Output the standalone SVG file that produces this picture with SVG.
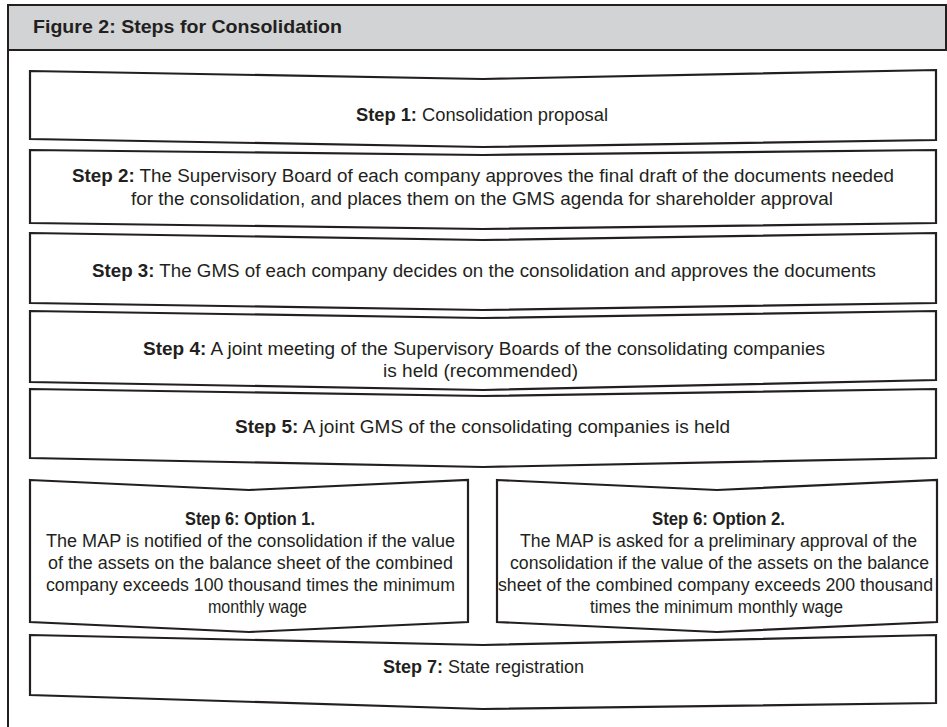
<svg xmlns="http://www.w3.org/2000/svg" width="947" height="727" viewBox="0 0 947 727">
<style>
.box{fill:#ffffff;stroke:#231f20;stroke-width:2.2;stroke-linejoin:miter}
.t{font-family:"Liberation Sans",Arial,sans-serif;font-size:17.5px;fill:#231f20;text-anchor:middle}
.b{font-weight:bold}
.h{font-family:"Liberation Sans",Arial,sans-serif;font-size:19px;font-weight:bold;fill:#231f20}
</style>
<rect width="947" height="727" fill="#ffffff"/>
<g id="frame">
<rect x="8" y="5" width="938" height="45" fill="#d1d3d4" stroke="#231f20" stroke-width="2"/>
<line x1="8" y1="50" x2="8" y2="727" stroke="#231f20" stroke-width="2"/>
<text class="h" x="33" y="33" textLength="309" lengthAdjust="spacingAndGlyphs">Figure 2: Steps for Consolidation</text>
</g>
<g id="connectors"></g>
<g id="step1">
<path class="box" d="M30,71 Q256,76 483,79 Q710,75 936,70 L936,140 Q710,144 483,147 Q256,143 30,139 Z"/>
<text class="t" x="482" y="121" textLength="252" lengthAdjust="spacingAndGlyphs"><tspan class="b">Step 1:</tspan> Consolidation proposal</text>
</g>
<g id="step2">
<path class="box" d="M30,150 Q256,153 483,155 Q710,153 936,150 L936,223 Q710,226 483,229 Q256,226 30,223 Z"/>
<text class="t" x="483" y="182" textLength="822" lengthAdjust="spacingAndGlyphs"><tspan class="b">Step 2:</tspan> The Supervisory Board of each company approves the final draft of the documents needed</text>
<text class="t" x="482" y="205" textLength="702" lengthAdjust="spacingAndGlyphs">for the consolidation, and places them on the GMS agenda for shareholder approval</text>
</g>
<g id="step3">
<path class="box" d="M30,233 Q256,237 483,240 Q710,237 936,233 L936,303 Q710,306 483,310 Q256,306 30,303 Z"/>
<text class="t" x="484" y="277" textLength="784" lengthAdjust="spacingAndGlyphs"><tspan class="b">Step 3:</tspan> The GMS of each company decides on the consolidation and approves the documents</text>
</g>
<g id="step4">
<path class="box" d="M30,311 Q256,315 483,318 Q710,315 936,311 L936,380 Q710,385 483,390 Q256,386 30,382 Z"/>
<text class="t" x="484" y="355" textLength="682" lengthAdjust="spacingAndGlyphs"><tspan class="b">Step 4:</tspan> A joint meeting of the Supervisory Boards of the consolidating companies</text>
<text class="t" x="480.5" y="377" textLength="195" lengthAdjust="spacingAndGlyphs">is held (recommended)</text>
</g>
<g id="step5">
<path class="box" d="M30,389 Q256,393 483,396 Q710,393 936,389 L936,458 Q710,462 483,467 Q256,462 30,458 Z"/>
<text class="t" x="482.5" y="433" textLength="495" lengthAdjust="spacingAndGlyphs"><tspan class="b">Step 5:</tspan> A joint GMS of the consolidating companies is held</text>
</g>
<g id="step6-option1">
<path class="box" d="M30,480 L249,490 L468,480 L468,622 L249,632 L30,622 Z"/>
<text class="t b" x="250" y="525" textLength="130" lengthAdjust="spacingAndGlyphs">Step 6: Option 1.</text>
<text class="t" x="250.5" y="547" textLength="409" lengthAdjust="spacingAndGlyphs">The MAP is notified of the consolidation if the value</text>
<text class="t" x="250.5" y="569" textLength="405" lengthAdjust="spacingAndGlyphs">of the assets on the balance sheet of the combined</text>
<text class="t" x="250.5" y="591" textLength="409" lengthAdjust="spacingAndGlyphs">company exceeds 100 thousand times the minimum</text>
<text class="t" x="257.5" y="613" textLength="99" lengthAdjust="spacingAndGlyphs">monthly wage</text>
</g>
<g id="step6-option2">
<path class="box" d="M497,480 L717,490 L937,480 L937,622 L717,632 L497,622 Z"/>
<text class="t b" x="718.5" y="525" textLength="133" lengthAdjust="spacingAndGlyphs">Step 6: Option 2.</text>
<text class="t" x="718.5" y="547" textLength="397" lengthAdjust="spacingAndGlyphs">The MAP is asked for a preliminary approval of the</text>
<text class="t" x="719.5" y="569" textLength="419" lengthAdjust="spacingAndGlyphs">consolidation if the value of the assets on the balance</text>
<text class="t" x="715.5" y="591" textLength="435" lengthAdjust="spacingAndGlyphs">sheet of the combined company exceeds 200 thousand</text>
<text class="t" x="716.5" y="613" textLength="253" lengthAdjust="spacingAndGlyphs">times the minimum monthly wage</text>
</g>
<g id="step7">
<path class="box" d="M30,635 Q256,640 483,645 Q710,640 936,635 L936,703 Q710,706 483,709 Q256,702 30,695 Z"/>
<text class="t" x="483.5" y="673" textLength="201" lengthAdjust="spacingAndGlyphs"><tspan class="b">Step 7:</tspan> State registration</text>
</g>
</svg>
